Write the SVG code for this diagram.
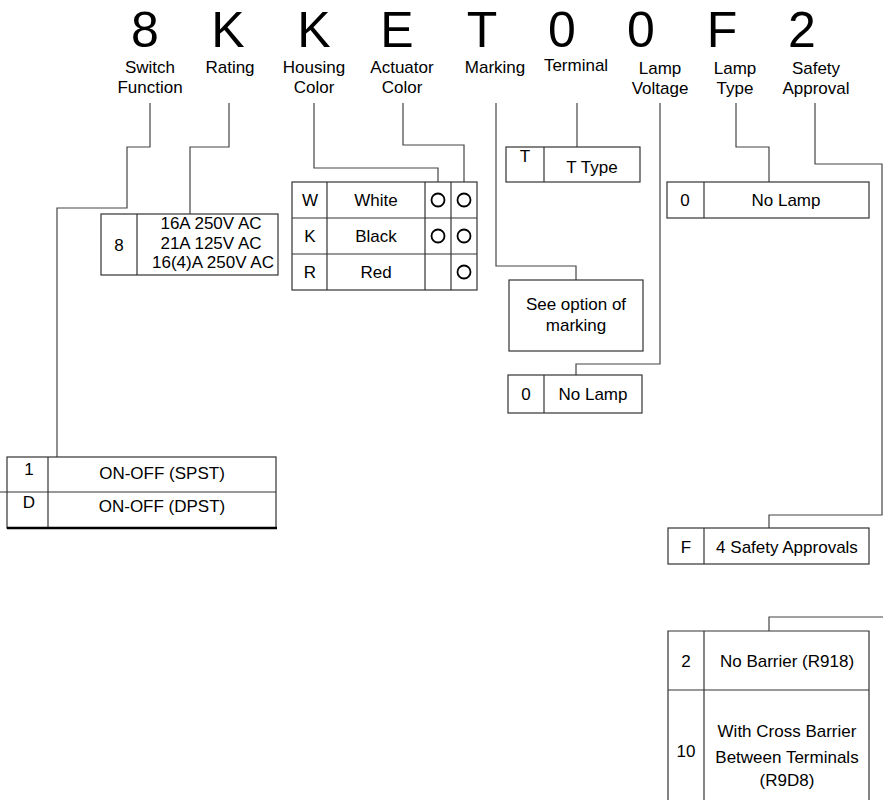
<svg xmlns="http://www.w3.org/2000/svg" width="883" height="800" viewBox="0 0 883 800">
<style>
text{font-family:"Liberation Sans",Arial,sans-serif;fill:#000;text-anchor:middle}
.big{font-size:50px}
.lbl{font-size:17px}
.t{font-size:17px}
.box{fill:#fff;stroke:#333;stroke-width:1.2}
.ln{fill:none;stroke:#333;stroke-width:1.2}
.conn{fill:none;stroke:#444;stroke-width:1.2}
.dot{fill:none;stroke:#000;stroke-width:1.8}
</style>
<rect width="883" height="800" fill="#fff"/>
<g id="header">
<text class="big" x="145" y="47">8</text>
<text class="big" x="228" y="47">K</text>
<text class="big" x="314" y="47">K</text>
<text class="big" x="397" y="47">E</text>
<text class="big" x="482" y="47">T</text>
<text class="big" x="562" y="47">0</text>
<text class="big" x="641" y="47">0</text>
<text class="big" x="722" y="47">F</text>
<text class="big" x="802" y="47">2</text>
</g>
<g id="labels">
<text class="lbl" x="150" y="73">Switch</text>
<text class="lbl" x="150" y="93">Function</text>
<text class="lbl" x="230" y="73">Rating</text>
<text class="lbl" x="314" y="73">Housing</text>
<text class="lbl" x="314" y="93">Color</text>
<text class="lbl" x="402" y="73">Actuator</text>
<text class="lbl" x="402" y="93">Color</text>
<text class="lbl" x="495" y="73">Marking</text>
<text class="lbl" x="576" y="71">Terminal</text>
<text class="lbl" x="660" y="74">Lamp</text>
<text class="lbl" x="660" y="94">Voltage</text>
<text class="lbl" x="735" y="74">Lamp</text>
<text class="lbl" x="735" y="94">Type</text>
<text class="lbl" x="816" y="74">Safety</text>
<text class="lbl" x="816" y="94">Approval</text>
</g>
<g id="connectors">
<polyline class="conn" points="150,103 150,147 127,147 127,208 57,208 57,457"/>
<polyline class="conn" points="229,103 229,147 190,147 190,214"/>
<polyline class="conn" points="314,103 314,168 438,168 438,182"/>
<polyline class="conn" points="403,103 403,145 464,145 464,182"/>
<polyline class="conn" points="496,103 496,266 576,266 576,280"/>
<polyline class="conn" points="577,103 577,147"/>
<polyline class="conn" points="660,103 660,364 576,364 576,375"/>
<polyline class="conn" points="736,103 736,147 769,147 769,182"/>
<polyline class="conn" points="815,103 815,164 882,164 882,515 769,515 769,528"/>
<polyline class="conn" points="884,617 769,617 769,631"/>
</g>
<g id="switch-function">
<rect class="box" x="7" y="457" width="269" height="71"/>
<line class="ln" x1="48" y1="457" x2="48" y2="528"/>
<line class="ln" x1="0" y1="492" x2="276" y2="492"/>
<line x1="7" y1="528" x2="277" y2="528" stroke="#000" stroke-width="2.5"/>
<text class="t" x="29" y="475">1</text>
<text class="t" x="162" y="479">ON-OFF (SPST)</text>
<text class="t" x="29" y="508">D</text>
<text class="t" x="162" y="512">ON-OFF (DPST)</text>
</g>
<g id="rating">
<rect class="box" x="101" y="214" width="177" height="61"/>
<line class="ln" x1="137" y1="214" x2="137" y2="275"/>
<text class="t" x="119" y="251">8</text>
<text class="t" x="211" y="229">16A 250V AC</text>
<text class="t" x="211" y="249">21A 125V AC</text>
<text class="t" x="213" y="268">16(4)A 250V AC</text>
</g>
<g id="color">
<rect class="box" x="292" y="182" width="185" height="108"/>
<line class="ln" x1="327" y1="182" x2="327" y2="290"/>
<line class="ln" x1="425" y1="182" x2="425" y2="290"/>
<line class="ln" x1="451" y1="182" x2="451" y2="290"/>
<line class="ln" x1="292" y1="218" x2="477" y2="218"/>
<line class="ln" x1="292" y1="254" x2="477" y2="254"/>
<text class="t" x="310" y="206">W</text>
<text class="t" x="376" y="206">White</text>
<text class="t" x="310" y="242">K</text>
<text class="t" x="376" y="242">Black</text>
<text class="t" x="310" y="278">R</text>
<text class="t" x="376" y="278">Red</text>
<circle class="dot" cx="438" cy="200" r="6.5"/>
<circle class="dot" cx="464" cy="200" r="6.5"/>
<circle class="dot" cx="438" cy="236" r="6.5"/>
<circle class="dot" cx="464" cy="236" r="6.5"/>
<circle class="dot" cx="464" cy="272" r="6.5"/>
</g>
<g id="terminal">
<rect class="box" x="506" y="147" width="134" height="35"/>
<line class="ln" x1="544" y1="147" x2="544" y2="182"/>
<text class="t" x="525" y="162">T</text>
<text class="t" x="592" y="173">T Type</text>
</g>
<g id="marking">
<rect class="box" x="509" y="280" width="134" height="71"/>
<text class="t" x="576" y="310">See option of</text>
<text class="t" x="576" y="331">marking</text>
</g>
<g id="lamp-voltage">
<rect class="box" x="508" y="375" width="134" height="38"/>
<line class="ln" x1="544" y1="375" x2="544" y2="413"/>
<text class="t" x="526" y="400">0</text>
<text class="t" x="593" y="400">No Lamp</text>
</g>
<g id="lamp-type">
<rect class="box" x="667" y="182" width="202" height="36"/>
<line class="ln" x1="704" y1="182" x2="704" y2="218"/>
<text class="t" x="685" y="206">0</text>
<text class="t" x="786" y="206">No Lamp</text>
</g>
<g id="safety">
<rect class="box" x="668" y="528" width="201" height="36"/>
<line class="ln" x1="704" y1="528" x2="704" y2="564"/>
<text class="t" x="686" y="553">F</text>
<text class="t" x="787" y="553">4 Safety Approvals</text>
</g>
<g id="barrier">
<polyline class="ln" points="668,801 668,631 869,631 869,801"/>
<line class="ln" x1="704" y1="631" x2="704" y2="801"/>
<line class="ln" x1="668" y1="690" x2="869" y2="690"/>
<text class="t" x="686" y="667">2</text>
<text class="t" x="787" y="667">No Barrier (R918)</text>
<text class="t" x="686" y="757">10</text>
<text class="t" x="787" y="737">With Cross Barrier</text>
<text class="t" x="787" y="763">Between Terminals</text>
<text class="t" x="787" y="786">(R9D8)</text>
</g>
</svg>
